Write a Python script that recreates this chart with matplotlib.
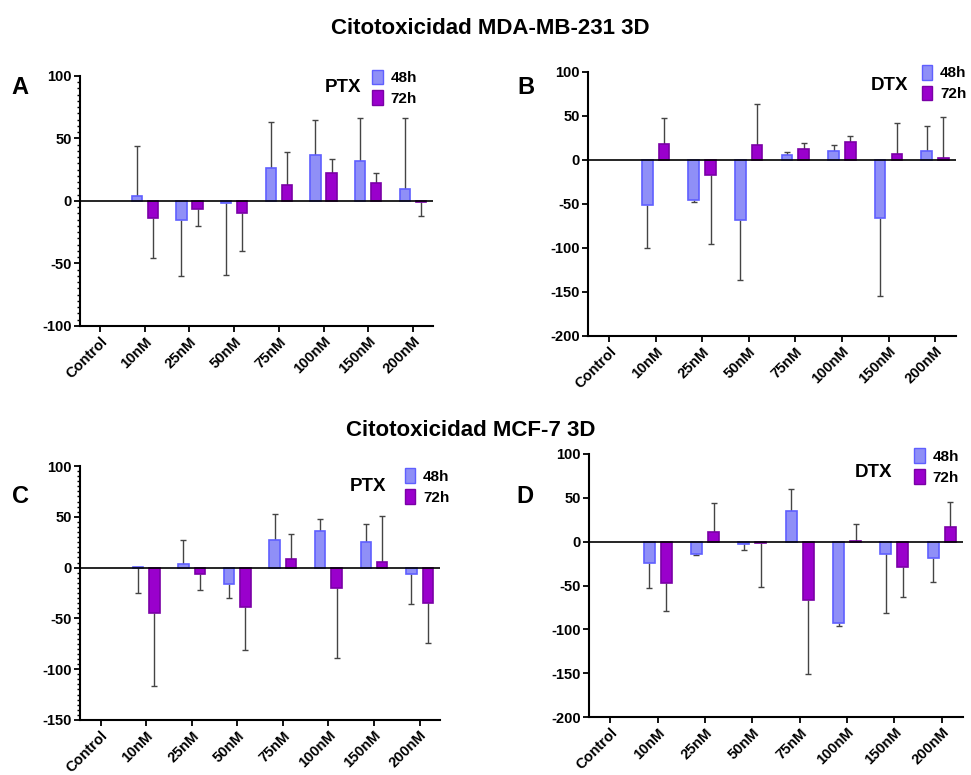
import matplotlib
matplotlib.use('Agg')
import matplotlib.pyplot as plt
from matplotlib.patches import Patch
from matplotlib.ticker import MultipleLocator
import numpy as np

plt.rcParams['font.family'] = ['Liberation Sans', 'DejaVu Sans']
plt.rcParams['font.weight'] = 'bold'
plt.rcParams['axes.unicode_minus'] = False

# datos
categorias = ['Control', '10nM', '25nM', '50nM', '75nM', '100nM', '150nM', '200nM']

# A: MDA-MB-231 PTX
a_48 = [np.nan, 4, -15, -1.3, 26, 36.5, 31.7, 9.6]
a_48_err = [np.nan, 44, -59.7, -59.2, 63, 64.8, 66.4, 66.4]
a_72 = [np.nan, -13.6, -6.1, -9.3, 13.1, 22.7, 14.1, -0.5]
a_72_err = [np.nan, -45.3, -19.7, -40.3, 39.5, 33.9, 22.7, -11.7]

# B: MDA-MB-231 DTX
b_48 = [np.nan, -50.6, -45.6, -68, 5.7, 9.9, -65.8, 10.3]
b_48_err = [np.nan, -100.4, -47.5, -136.5, 9.1, 17.5, -154.8, 38.8]
b_72 = [np.nan, 18.3, -17.1, 17.1, 12.2, 20.9, 6.5, 1.9]
b_72_err = [np.nan, 47.9, -95, 63.9, 19, 27, 41.8, 49]

# C: MCF-7 PTX
c_48 = [np.nan, 1, 3.6, -16.4, 27.2, 35.7, 24.9, -6.2]
c_48_err = [np.nan, -25, 27.2, -30.2, 52.5, 47.9, 42.6, -36]
c_72 = [np.nan, -45, -6.2, -38.4, 8.9, -19.7, 5.9, -34.4]
c_72_err = [np.nan, -116.5, -22, -81.3, 32.8, -88.9, 50.5, -74.1]

# D: MCF-7 DTX
d_48 = [np.nan, -24, -14.1, -2.7, 35.4, -93.2, -14.1, -19]
d_48_err = [np.nan, -53.2, -15.2, -9.5, 60.5, -96.2, -81.7, -46.4]
d_72 = [np.nan, -47.5, 11.4, -1, -66.2, 1.1, -29.3, 17.1]
d_72_err = [np.nan, -78.7, 43.7, -51.3, -151, 19.8, -63.1, 44.9]

col_48, edge_48 = '#8f8ff7', '#5f5fff'
col_72, edge_72 = '#9a00cc', '#7a00a6'

fig = plt.figure(figsize=(9.71, 7.75), dpi=100)

paneles = [
    # rect, datos, ylim, droga, minor, texto droga pos, legend pos
    ([0.0824, 0.5794, 0.3635, 0.3226], (a_48, a_48_err, a_72, a_72_err), (-100, 100), 'PTX', True, (0.745, 0.955), (0.81, 1.05)),
    ([0.6056, 0.5665, 0.3790, 0.3406], (b_48, b_48_err, b_72, b_72_err), (-200, 100), 'DTX', False, (0.82, 0.947), (0.89, 1.05)),
    ([0.0824, 0.0710, 0.3708, 0.3277], (c_48, c_48_err, c_72, c_72_err), (-150, 100), 'PTX', True, (0.80, 0.92), (0.885, 1.015)),
    ([0.6066, 0.0748, 0.3852, 0.3394], (d_48, d_48_err, d_72, d_72_err), (-200, 100), 'DTX', False, (0.76, 0.928), (0.853, 1.045)),
]

x = np.arange(len(categorias))
ancho = 0.23
desp = 0.18

for rect, datos, ylim, droga, minor, tpos, lpos in paneles:
    ax = fig.add_axes(rect)
    v48, e48, v72, e72 = [np.array(d, dtype=float) for d in datos]
    ax.bar(x - desp, v48, ancho, color=col_48, edgecolor=edge_48, linewidth=1.2, zorder=2)
    ax.bar(x + desp, v72, ancho, color=col_72, edgecolor=edge_72, linewidth=1.2, zorder=2)
    # barras de error de un solo lado
    for xs, v, e in [(x - desp, v48, e48), (x + desp, v72, e72)]:
        ax.vlines(xs, v, e, color='#444444', linewidth=1.0, zorder=1)
        ax.plot(xs, e, linestyle='none', marker='_', markersize=5, color='#444444', markeredgewidth=1.0, zorder=1)
    ax.axhline(0, color='black', linewidth=1.2, zorder=3)

    ax.set_xlim(-0.45, 7.45)
    ax.set_ylim(*ylim)
    ax.yaxis.set_major_locator(MultipleLocator(50))
    if minor:
        ax.yaxis.set_minor_locator(MultipleLocator(5))
        ax.tick_params(axis='y', which='minor', length=2.5, width=1)
    ax.set_xticks(x)
    ax.set_xticklabels(categorias, rotation=45, ha='right', rotation_mode='anchor',
                       fontsize=10.5, fontweight='bold')
    for lab in ax.get_yticklabels():
        lab.set_fontsize(10.5)
        lab.set_fontweight('bold')
    ax.tick_params(axis='both', which='major', length=4, width=1.3, pad=2)
    ax.spines['top'].set_visible(False)
    ax.spines['right'].set_visible(False)
    ax.spines['left'].set_linewidth(1.5)
    ax.spines['bottom'].set_linewidth(1.5)

    ax.text(tpos[0], tpos[1], droga, transform=ax.transAxes, ha='center', va='center',
            fontsize=13.5, fontweight='bold')
    handles = [Patch(facecolor=col_48, edgecolor=edge_48, label='48h'),
               Patch(facecolor=col_72, edgecolor=edge_72, label='72h')]
    ax.legend(handles=handles, loc='upper left', bbox_to_anchor=lpos, frameon=False,
              handlelength=0.7, handleheight=1.1, handletextpad=0.5, labelspacing=0.35,
              borderaxespad=0, prop={'size': 11, 'weight': 'bold'})

fig.text(0.505, 1 - 28 / 775, 'Citotoxicidad MDA-MB-231 3D', ha='center', va='center',
         fontsize=16, fontweight='bold')
fig.text(0.485, 1 - 430 / 775, 'Citotoxicidad MCF-7 3D', ha='center', va='center',
         fontsize=16, fontweight='bold')
for letra, px, py in [('A', 20, 87), ('B', 526, 87), ('C', 20, 497), ('D', 525, 497)]:
    fig.text(px / 971, 1 - py / 775, letra, ha='center', va='center', fontsize=17, fontweight='bold')

fig.savefig('out.png', dpi=100)
